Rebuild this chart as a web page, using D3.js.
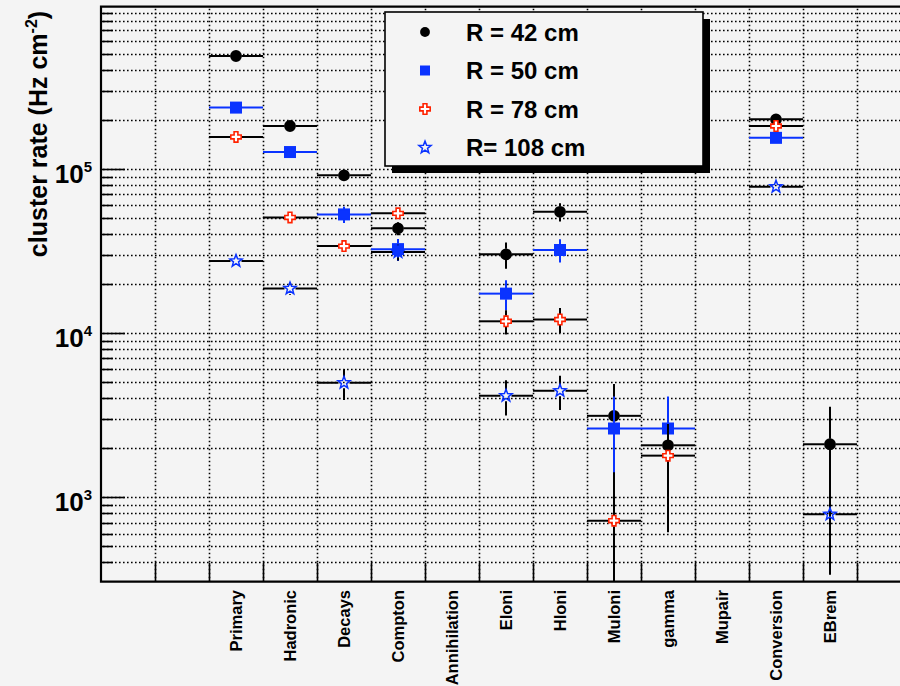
<!DOCTYPE html>
<html>
<head>
<meta charset="utf-8">
<style>
  body { margin: 0; background: #f4f4f4; }
  svg { display: block; font-family: "Liberation Sans", Arial, Helvetica, sans-serif; font-weight: bold; }
  .grid line { stroke: #000; stroke-width: 1.6; stroke-dasharray: 1.6,2.4; }
</style>
</head>
<body>
<svg width="900" height="686"></svg>
<script src="https://d3js.org/d3.v7.min.js"></script>
<script>
// bin labels of the histogram (first two and last bins are empty)
const binLabels = ["", "", "Primary", "Hadronic", "Decays", "Compton", "Annihilation",
  "Eloni", "Hloni", "Muloni", "gamma", "Mupair", "Conversion", "EBrem", ""];

// cluster rates (Hz cm^-2) per bin, null = no entry
const rateR42  = [null, null, 4.89e5, 1.83e5, 9.16e4, 4.35e4, null, 3.02e4, 5.49e4, 3.13e3, 2.07e3, null, 2.01e5, 2.10e3, null];
const errR42   = [null, null, 1.2e4, 6e3, 4e3, 4e3, null, 5.5e3, 7e3, 1.76e3, 1.46e3, null, 6e3, 1.46e3, null];
const rateR50  = [null, null, 2.37e5, 1.27e5, 5.29e4, 3.25e4, null, 1.74e4, 3.21e4, 2.62e3, 2.62e3, null, 1.55e5, null, null];
const errR50   = [null, null, 8e3, 5e3, 6e3, 5e3, null, 3.6e3, 5.2e3, 1.48e3, 1.48e3, null, 6e3, null, null];
const rateR78  = [null, null, 1.57e5, 5.07e4, 3.39e4, 5.37e4, null, 1.18e4, 1.21e4, 718, 1.79e3, null, 1.83e5, null, null];
const errR78   = [null, null, 6e3, 3e3, 2.5e3, 3.5e3, null, 2.0e3, 2.1e3, 700, 1.0e3, null, 6e3, null, null];
const rateR108 = [null, null, 2.75e4, 1.87e4, 4.98e3, 3.12e4, null, 4.15e3, 4.45e3, null, null, null, 7.8e4, 786, null];
const errR108  = [null, null, 2e3, 1.6e3, 1.07e3, 3.5e3, null, 1.0e3, 1.05e3, null, null, null, 4e3, 450, null];

const seriesNames = ["R = 42 cm", "R = 50 cm", "R = 78 cm", "R= 108 cm"];

const yDomain = [305, 9.77e5];
const yDecades = [3, 4, 5];

const blue = "#0a33ff";
const red = "#ff2200";

const series = [
  { name: seriesNames[0], rate: rateR42, err: errR42, marker: "circle", fill: "#000", line: "#000" },
  { name: seriesNames[1], rate: rateR50, err: errR50, marker: "square", fill: blue, line: blue },
  { name: seriesNames[2], rate: rateR78, err: errR78, marker: "cross", fill: red, line: "#000" },
  { name: seriesNames[3], rate: rateR108, err: errR108, marker: "star", fill: blue, line: "#000" }
];

const svg = d3.select("svg");
const plotLeft = 101, plotTop = 6.7, plotBottom = 581.7, binW = 54;
const plotRight = plotLeft + binW * binLabels.length;
const gap = 5.5; // error bars stop at the marker edge

const x = d3.scaleLinear().domain([0, binLabels.length]).range([plotLeft, plotRight]);
const y = d3.scaleLog().domain(yDomain).range([plotBottom, plotTop]);
const snap = v => Math.round(v) + 0.5;

const plot = svg.append("g");
plot.append("clipPath").attr("id", "clip")
  .append("rect").attr("x", plotLeft).attr("y", plotTop)
  .attr("width", plotRight - plotLeft).attr("height", plotBottom - plotTop);

// grid
const gridVals = [];
for (let k = 2; k <= 6; k++) for (let m = 1; m <= 9; m++) {
  const v = m * Math.pow(10, k);
  if (v > yDomain[0] && v < yDomain[1]) gridVals.push(v);
}
const grid = plot.append("g").attr("class", "grid");
grid.selectAll(".gy").data(gridVals).join("line")
  .attr("x1", plotLeft + 2).attr("x2", plotRight).attr("y1", d => snap(y(d))).attr("y2", d => snap(y(d)));
grid.selectAll(".gx").data(d3.range(1, binLabels.length)).join("line")
  .attr("x1", d => snap(x(d))).attr("x2", d => snap(x(d))).attr("y1", plotTop + 2).attr("y2", plotBottom);

// ticks
const ticks = plot.append("g").attr("stroke", "#000").attr("stroke-width", 1.6);
ticks.selectAll(".ty").data(gridVals).join("line")
  .attr("x1", plotLeft).attr("y1", d => snap(y(d))).attr("y2", d => snap(y(d)))
  .attr("x2", d => plotLeft + (Math.abs(Math.log10(d) % 1) < 1e-9 ? 24 : 12));
ticks.selectAll(".tx").data(d3.range(1, binLabels.length)).join("line")
  .attr("x1", d => snap(x(d))).attr("x2", d => snap(x(d))).attr("y1", plotBottom).attr("y2", plotBottom - 19);

// frame
plot.append("path")
  .attr("d", `M${plotRight},${plotTop}H${plotLeft}V${plotBottom}H${plotRight}`)
  .attr("fill", "none").attr("stroke", "#000").attr("stroke-width", 2.2);

// y tick labels
const yl = svg.append("g").selectAll("text").data(yDecades).join("text")
  .attr("x", 92).attr("y", d => y(Math.pow(10, d)) + 13.7)
  .attr("text-anchor", "end").attr("font-size", 26);
yl.append("tspan").text("10");
yl.append("tspan").attr("font-size", 15).attr("dy", -11).text(d => d);

// y title
const yt = svg.append("text")
  .attr("transform", "translate(47,134) rotate(-90)")
  .attr("text-anchor", "middle").attr("font-size", 25);
yt.append("tspan").text("cluster rate (Hz cm");
yt.append("tspan").attr("font-size", 16).attr("dy", -10).text("-2");
yt.append("tspan").attr("dy", 10).text(")");

// x labels
svg.append("g").selectAll("text").data(binLabels.map((l, i) => ({ l, i })).filter(d => d.l))
  .join("text")
  .attr("transform", d => `translate(${x(d.i + 0.5) + 6},590) rotate(-90)`)
  .attr("text-anchor", "end").attr("font-size", 16.5)
  .text(d => d.l);

// markers
function crossPath(s, a) {
  return `M${-a},${-s}H${a}V${-a}H${s}V${a}H${a}V${s}H${-a}V${a}H${-s}V${-a}H${-a}Z`;
}
function starPath(R, r) {
  const pts = [];
  for (let i = 0; i < 10; i++) {
    const ang = -Math.PI / 2 + i * Math.PI / 5;
    const rad = i % 2 ? r : R;
    pts.push([rad * Math.cos(ang), rad * Math.sin(ang)]);
  }
  return "M" + pts.map(p => p.join(",")).join("L") + "Z";
}
function drawMarker(g, s) {
  if (s.marker === "circle") g.append("circle").attr("r", 4.9).attr("fill", s.fill);
  else if (s.marker === "square") g.append("rect").attr("x", -5).attr("y", -5).attr("width", 10).attr("height", 10).attr("fill", s.fill);
  else if (s.marker === "cross") g.append("path").attr("d", crossPath(5.2, 1.9)).attr("fill", "#fff").attr("stroke", s.fill).attr("stroke-width", 1.6);
  else g.append("path").attr("d", starPath(6.4, 2.7)).attr("fill", "none").attr("stroke", s.fill).attr("stroke-width", 1.5);
}

const data = plot.append("g").attr("clip-path", "url(#clip)");
series.forEach(s => {
  const pts = s.rate.map((v, i) => ({ v, e: s.err[i], i })).filter(d => d.v != null);
  const g = data.append("g").attr("stroke", s.line).attr("stroke-width", 2);
  pts.forEach(d => {
    const cx = x(d.i + 0.5), cy = y(d.v);
    const segs = [
      [x(d.i), cy, cx - gap, cy],
      [cx + gap, cy, x(d.i + 1), cy]
    ];
    const yHi = y(d.v + d.e);
    const yLo = d.v - d.e > yDomain[0] ? y(d.v - d.e) : plotBottom;
    if (yHi < cy - gap) segs.push([cx, yHi, cx, cy - gap]);
    if (yLo > cy + gap) segs.push([cx, cy + gap, cx, yLo]);
    g.selectAll(null).data(segs).join("line")
      .attr("x1", p => p[0]).attr("y1", p => p[1]).attr("x2", p => p[2]).attr("y2", p => p[3]);
  });
  pts.forEach(d => {
    drawMarker(g.append("g").attr("transform", `translate(${x(d.i + 0.5)},${y(d.v)})`), s);
  });
});

// legend
const lg = svg.append("g");
lg.append("rect").attr("x", 392).attr("y", 19).attr("width", 318).attr("height", 154).attr("fill", "#000");
lg.append("rect").attr("x", 385).attr("y", 12).attr("width", 318).attr("height", 154)
  .attr("fill", "#f4f4f4").attr("stroke", "#000").attr("stroke-width", 1.6);
series.forEach((s, k) => {
  const cy = 32 + k * 38.5;
  drawMarker(lg.append("g").attr("transform", `translate(425,${cy})`), s);
  lg.append("text").attr("x", 466).attr("y", cy + 8.5).attr("font-size", 24).text(s.name);
});
</script>
</body>
</html>
